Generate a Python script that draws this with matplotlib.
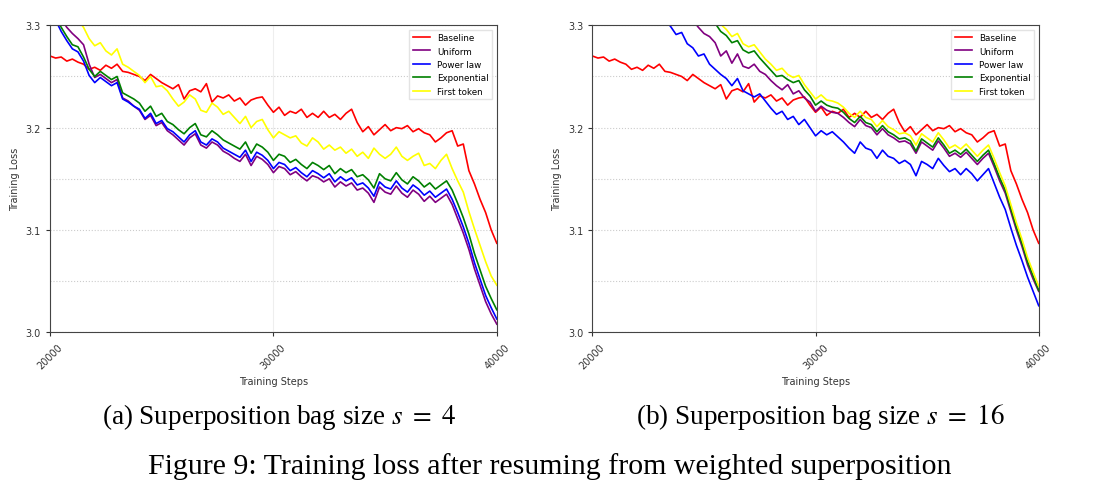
import numpy as np
import matplotlib.pyplot as plt
from matplotlib.ticker import MultipleLocator

# eixo x: passos de treino (a cada 250)
steps = np.arange(20000, 40001, 250)

baseline = [
    3.270, 3.268, 3.269, 3.265, 3.267, 3.264, 3.262, 3.257, 3.259, 3.256,
    3.261, 3.258, 3.262, 3.255, 3.254, 3.252, 3.250, 3.246, 3.252, 3.248,
    3.244, 3.241, 3.238, 3.242, 3.228, 3.236, 3.238, 3.235, 3.243, 3.225,
    3.231, 3.229, 3.232, 3.226, 3.229, 3.222, 3.227, 3.229, 3.230, 3.222,
    3.215, 3.220, 3.212, 3.216, 3.214, 3.218, 3.210, 3.214, 3.210, 3.216,
    3.210, 3.213, 3.208, 3.214, 3.218, 3.205, 3.196, 3.201, 3.193, 3.198,
    3.203, 3.197, 3.200, 3.199, 3.202, 3.196, 3.199, 3.195, 3.193, 3.186,
    3.190, 3.195, 3.197, 3.182, 3.184, 3.158, 3.145, 3.130, 3.117, 3.100,
    3.087]

# (a) s = 4
uniform_4 = [
    3.340, 3.318, 3.306, 3.298, 3.292, 3.287, 3.281, 3.262, 3.249, 3.252,
    3.248, 3.244, 3.247, 3.229, 3.226, 3.221, 3.217, 3.208, 3.212, 3.202,
    3.205, 3.197, 3.193, 3.188, 3.183, 3.190, 3.194, 3.183, 3.180, 3.186,
    3.183, 3.177, 3.174, 3.170, 3.167, 3.174, 3.163, 3.172, 3.169, 3.164,
    3.156, 3.162, 3.160, 3.154, 3.157, 3.152, 3.148, 3.153, 3.151, 3.147,
    3.150, 3.142, 3.147, 3.143, 3.146, 3.139, 3.141, 3.136, 3.127, 3.142,
    3.137, 3.135, 3.143, 3.136, 3.132, 3.139, 3.135, 3.128, 3.133, 3.127,
    3.131, 3.135, 3.125, 3.111, 3.097, 3.081, 3.062, 3.046, 3.030, 3.018,
    3.008]
power_4 = [
    3.320, 3.305, 3.294, 3.285, 3.277, 3.274, 3.265, 3.251, 3.244, 3.249,
    3.245, 3.241, 3.244, 3.228, 3.225, 3.221, 3.218, 3.209, 3.214, 3.204,
    3.207, 3.199, 3.196, 3.191, 3.186, 3.193, 3.197, 3.186, 3.183, 3.189,
    3.186, 3.180, 3.177, 3.174, 3.171, 3.178, 3.167, 3.176, 3.173, 3.168,
    3.160, 3.166, 3.164, 3.158, 3.161, 3.156, 3.152, 3.158, 3.155, 3.151,
    3.155, 3.147, 3.152, 3.148, 3.151, 3.144, 3.146, 3.141, 3.133, 3.147,
    3.142, 3.140, 3.148, 3.141, 3.137, 3.144, 3.140, 3.134, 3.138, 3.132,
    3.136, 3.140, 3.130, 3.117, 3.103, 3.087, 3.068, 3.052, 3.036, 3.024,
    3.013]
expo_4 = [
    3.325, 3.308, 3.298, 3.289, 3.281, 3.279, 3.269, 3.257, 3.250, 3.255,
    3.251, 3.247, 3.250, 3.234, 3.231, 3.228, 3.224, 3.216, 3.221, 3.211,
    3.214, 3.206, 3.203, 3.198, 3.194, 3.200, 3.204, 3.193, 3.191, 3.197,
    3.193, 3.188, 3.185, 3.182, 3.179, 3.186, 3.175, 3.184, 3.181, 3.176,
    3.168, 3.174, 3.172, 3.166, 3.169, 3.164, 3.160, 3.166, 3.163, 3.159,
    3.163, 3.155, 3.160, 3.156, 3.159, 3.152, 3.154, 3.149, 3.141, 3.155,
    3.150, 3.148, 3.156, 3.149, 3.145, 3.152, 3.148, 3.142, 3.146, 3.140,
    3.144, 3.148, 3.139, 3.126, 3.112, 3.096, 3.077, 3.061, 3.045, 3.033,
    3.022]
first_4 = [
    3.360, 3.345, 3.330, 3.318, 3.310, 3.305, 3.298, 3.287, 3.280, 3.283,
    3.275, 3.271, 3.277, 3.262, 3.259, 3.255, 3.251, 3.244, 3.250, 3.240,
    3.241, 3.236, 3.228, 3.221, 3.225, 3.232, 3.228, 3.217, 3.215, 3.224,
    3.220, 3.213, 3.216, 3.210, 3.204, 3.211, 3.200, 3.206, 3.208, 3.198,
    3.190, 3.196, 3.193, 3.190, 3.192, 3.185, 3.182, 3.190, 3.186, 3.179,
    3.183, 3.178, 3.181, 3.175, 3.179, 3.172, 3.176, 3.170, 3.180, 3.174,
    3.170, 3.174, 3.181, 3.172, 3.168, 3.172, 3.175, 3.163, 3.165, 3.160,
    3.168, 3.174, 3.160, 3.148, 3.137, 3.118, 3.101, 3.085, 3.069, 3.055,
    3.046]

# (b) s = 16
uniform_16 = [
    3.420, 3.414, 3.408, 3.402, 3.396, 3.390, 3.384, 3.378, 3.372, 3.366,
    3.360, 3.353, 3.346, 3.339, 3.332, 3.325, 3.318, 3.311, 3.305, 3.298,
    3.292, 3.289, 3.283, 3.270, 3.275, 3.263, 3.272, 3.260, 3.258, 3.262,
    3.255, 3.252, 3.246, 3.241, 3.237, 3.242, 3.233, 3.236, 3.229, 3.225,
    3.216, 3.221, 3.217, 3.215, 3.214, 3.210, 3.205, 3.201, 3.208, 3.202,
    3.200, 3.193, 3.199, 3.193, 3.190, 3.186, 3.187, 3.184, 3.175, 3.186,
    3.182, 3.178, 3.187, 3.180, 3.172, 3.175, 3.171, 3.176, 3.170, 3.164,
    3.170, 3.175, 3.162, 3.148, 3.136, 3.118, 3.100, 3.084, 3.066, 3.052,
    3.040]
power_16 = [
    3.380, 3.375, 3.370, 3.365, 3.358, 3.352, 3.346, 3.340, 3.334, 3.328,
    3.322, 3.316, 3.310, 3.305, 3.299, 3.291, 3.293, 3.282, 3.278, 3.270,
    3.272, 3.262, 3.257, 3.252, 3.248, 3.241, 3.248, 3.236, 3.233, 3.230,
    3.233, 3.226, 3.219, 3.213, 3.216, 3.208, 3.211, 3.203, 3.208, 3.200,
    3.192, 3.197, 3.193, 3.196, 3.191, 3.186, 3.180, 3.175, 3.186, 3.180,
    3.178, 3.170, 3.178, 3.172, 3.170, 3.165, 3.168, 3.164, 3.153, 3.167,
    3.164, 3.160, 3.170, 3.163, 3.157, 3.160, 3.154, 3.160, 3.155, 3.148,
    3.154, 3.160, 3.146, 3.132, 3.120, 3.102, 3.085, 3.070, 3.054, 3.040,
    3.026]
expo_16 = [
    3.445, 3.438, 3.431, 3.424, 3.417, 3.410, 3.403, 3.396, 3.389, 3.382,
    3.375, 3.368, 3.361, 3.354, 3.347, 3.340, 3.333, 3.326, 3.320, 3.314,
    3.310, 3.306, 3.302, 3.294, 3.290, 3.283, 3.285, 3.276, 3.273, 3.275,
    3.268, 3.262, 3.256, 3.250, 3.251, 3.247, 3.244, 3.246, 3.237, 3.231,
    3.222, 3.226, 3.222, 3.220, 3.219, 3.215, 3.209, 3.205, 3.211, 3.205,
    3.203, 3.196, 3.202, 3.196, 3.193, 3.189, 3.190, 3.187, 3.177, 3.189,
    3.185, 3.181, 3.190, 3.183, 3.175, 3.178, 3.174, 3.179, 3.173, 3.167,
    3.173, 3.178, 3.165, 3.151, 3.139, 3.121, 3.103, 3.087, 3.069, 3.055,
    3.041]
first_16 = [
    3.450, 3.443, 3.436, 3.429, 3.422, 3.415, 3.408, 3.401, 3.394, 3.387,
    3.380, 3.373, 3.366, 3.359, 3.352, 3.345, 3.338, 3.331, 3.325, 3.319,
    3.315, 3.311, 3.307, 3.301, 3.296, 3.289, 3.292, 3.282, 3.279, 3.281,
    3.274, 3.267, 3.262, 3.256, 3.258, 3.252, 3.249, 3.251, 3.242, 3.235,
    3.228, 3.232, 3.227, 3.226, 3.224, 3.220, 3.214, 3.210, 3.216, 3.210,
    3.208, 3.201, 3.207, 3.201, 3.198, 3.194, 3.195, 3.192, 3.183, 3.194,
    3.190, 3.186, 3.195, 3.188, 3.180, 3.183, 3.179, 3.184, 3.178, 3.172,
    3.178, 3.183, 3.170, 3.156, 3.143, 3.125, 3.107, 3.091, 3.073, 3.059,
    3.045]

labels = ['Baseline', 'Uniform', 'Power law', 'Exponential', 'First token']
cores = ['red', 'purple', 'blue', 'green', 'yellow']

plt.rcParams['mathtext.fontset'] = 'stix'

fig = plt.figure(figsize=(10.95, 5.02), dpi=100)
ax1 = fig.add_axes([0.0457, 0.336, 0.408, 0.6116])
ax2 = fig.add_axes([0.541, 0.336, 0.4076, 0.6116])

paineis = [
    (ax1, [baseline, uniform_4, power_4, expo_4, first_4]),
    (ax2, [baseline, uniform_16, power_16, expo_16, first_16]),
]

for ax, series in paineis:
    for ys, lab, c in zip(series, labels, cores):
        ax.plot(steps, ys, color=c, label=lab, linewidth=1.2)
    ax.set_xlim(20000, 40000)
    ax.set_ylim(3.0, 3.3)
    ax.set_xticks([20000, 30000, 40000])
    ax.yaxis.set_major_locator(MultipleLocator(0.1))
    ax.yaxis.set_minor_locator(MultipleLocator(0.05))
    ax.tick_params(axis='y', which='minor', length=0)
    ax.tick_params(labelsize=7, colors='#333333', length=3)
    plt.setp(ax.get_xticklabels(), rotation=45)
    ax.grid(True, axis='y', which='both', linestyle=':', color='#cccccc', linewidth=0.8)
    ax.grid(True, axis='x', which='major', linestyle='-', color='#eeeeee', linewidth=0.8)
    for s in ax.spines.values():
        s.set_color('#444444')
    ax.set_xlabel('Training Steps', fontsize=7, color='#333333')
    ax.set_ylabel('Training Loss', fontsize=7, color='#333333')
    ax.legend(loc='upper right', fontsize=6.3, frameon=True, fancybox=False,
              edgecolor='#dddddd', handlelength=2.0, labelspacing=0.5)

serif = ['Liberation Serif', 'DejaVu Serif']
fig.text(0.255, 0.169, r'(a) Superposition bag size $s\ =\ 4$', ha='center', va='center',
         fontsize=19.5, family=serif)
fig.text(0.749, 0.169, r'(b) Superposition bag size $s\ =\ 16$', ha='center', va='center',
         fontsize=19.5, family=serif)
fig.text(0.502, 0.070, 'Figure 9: Training loss after resuming from weighted superposition',
         ha='center', va='center', fontsize=21.5, family=serif)

fig.savefig('out.png', dpi=100)
